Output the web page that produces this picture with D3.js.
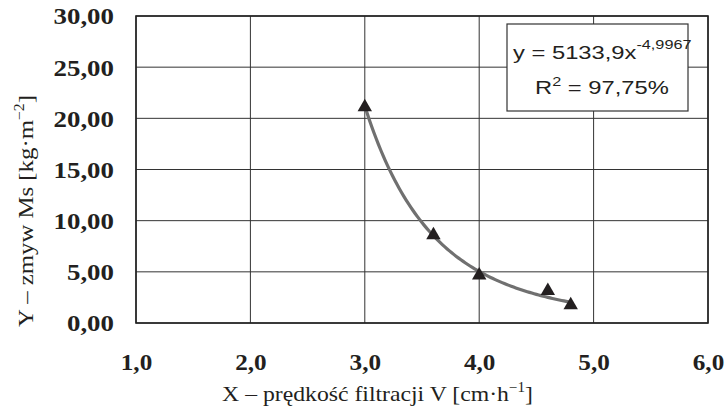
<!DOCTYPE html>
<html>
  <head>
    <meta charset="utf-8">
    <title>Zmyw Ms vs prędkość filtracji</title>
    <script src="https://d3js.org/d3.v7.min.js"></script>
    <style>
      body { margin: 0; background: #fff; }
      .grid line { stroke: #333; stroke-width: 1; }
    </style>
  </head>
  <body>
    <svg id="chart" width="726" height="410"></svg>
    <script>
      // measured points
      var xValues = [3.0, 3.6, 4.0, 4.6, 4.8];
      var yValues = [21.1, 8.6, 4.65, 3.15, 1.75];
      // fitted power trend y = a * x^b
      var fitA = 5133.9;
      var fitB = -4.9967;
      var xTicks = [1, 2, 3, 4, 5, 6];
      var yTicks = [0, 5, 10, 15, 20, 25, 30];

      var serif = "Liberation Serif";
      var sans = "Liberation Sans";
      var ink = "#231f20";

      var svg = d3.select("#chart");
      var margin = { left: 136, top: 16, right: 18, bottom: 87 };
      var width = 726 - margin.left - margin.right;
      var height = 410 - margin.top - margin.bottom;

      var x = d3.scaleLinear().domain([1, 6]).range([0, width]);
      var y = d3.scaleLinear().domain([0, 30]).range([height, 0]);
      var fmtX = function(d) { return d3.format(".1f")(d).replace(".", ","); };
      var fmtY = function(d) { return d3.format(".2f")(d).replace(".", ","); };

      var g = svg.append("g").attr("transform", "translate(" + margin.left + "," + margin.top + ")");

      // grid
      g.append("g").attr("class", "grid")
        .selectAll("line").data(yTicks).enter().append("line")
          .attr("x1", 0).attr("x2", width)
          .attr("y1", function(d) { return y(d); }).attr("y2", function(d) { return y(d); });
      g.append("g").attr("class", "grid")
        .selectAll("line").data(xTicks).enter().append("line")
          .attr("y1", 0).attr("y2", height)
          .attr("x1", function(d) { return x(d); }).attr("x2", function(d) { return x(d); });
      g.append("rect")
        .attr("width", width).attr("height", height)
        .attr("fill", "none").attr("stroke", "#222").attr("stroke-width", 1.6);

      // axes (labels only)
      var xAxis = g.append("g").attr("transform", "translate(0," + height + ")")
        .call(d3.axisBottom(x).tickValues(xTicks).tickFormat(fmtX).tickSize(0));
      var yAxis = g.append("g")
        .call(d3.axisLeft(y).tickValues(yTicks).tickFormat(fmtY).tickSize(0));
      svg.selectAll(".domain").remove();
      xAxis.attr("font-family", serif).attr("font-size", 24);
      yAxis.attr("font-family", serif).attr("font-size", 24);
      svg.selectAll(".tick text")
        .attr("font-family", serif).attr("font-weight", "bold").attr("font-size", 24).attr("fill", ink);
      xAxis.selectAll("text")
        .attr("y", 0).attr("dy", 0)
        .attr("transform", "translate(0," + (370 - margin.top - height) + ") scale(1.05,1)");
      yAxis.selectAll("text")
        .attr("x", 0).attr("dy", "0.33em")
        .attr("transform", "translate(-22,0) scale(1.12,1)");

      // trend line
      var curve = d3.range(xValues[0], d3.max(xValues) + 0.001, 0.02).map(function(v) { return [v, fitA * Math.pow(v, fitB)]; });
      g.append("path")
        .datum(curve)
        .attr("fill", "none")
        .attr("stroke", "#707070")
        .attr("stroke-width", 3.2)
        .attr("d", d3.line().x(function(d) { return x(d[0]); }).y(function(d) { return y(d[1]); }));

      // markers
      var tri = d3.symbol().type(d3.symbolTriangle).size(90);
      g.selectAll(".pt").data(xValues).enter().append("path")
        .attr("class", "pt")
        .attr("d", tri)
        .attr("fill", ink)
        .attr("transform", function(d, i) { return "translate(" + x(d) + "," + y(yValues[i]) + ")"; });

      // equation box
      svg.append("rect").attr("x", 507).attr("y", 24).attr("width", 181).attr("height", 87)
        .attr("fill", "#fff").attr("stroke", "#333").attr("stroke-width", 1.2);
      function stretched(px, by, sx, font, size, anchor) {
        return svg.append("text")
          .attr("transform", "translate(" + px + "," + by + ") scale(" + sx + ",1)")
          .attr("text-anchor", anchor || "middle")
          .attr("font-family", font).attr("font-size", size).attr("fill", ink);
      }
      var eq1 = stretched(513, 58.5, 1.25, sans, 19, "start");
      eq1.append("tspan").text("y = 5133,9x");
      eq1.append("tspan").attr("dy", -10).attr("font-size", 13).text("-4,9967");
      var eq2 = stretched(535, 93.5, 1.25, sans, 19, "start");
      eq2.append("tspan").text("R");
      eq2.append("tspan").attr("dy", -8).attr("font-size", 13).text("2");
      eq2.append("tspan").attr("dy", 8).text(" = 97,75%");

      // axis titles, fitted to the width they take in the original
      function fitTitle(t, target) {
        var w = t.node().getBBox().width;
        var tr = t.attr("transform");
        t.attr("transform", tr.replace(/scale\([^)]*\)/, "scale(" + (target / w) + ",1)"));
      }
      var xt = stretched(377.5, 401, 1, serif, 22);
      xt.append("tspan").text("X – prędkość filtracji V [cm·h");
      xt.append("tspan").attr("dy", -9).attr("font-size", 14).text("−1");
      xt.append("tspan").attr("dy", 9).text("]");
      fitTitle(xt, 311);
      var yt = svg.append("g").attr("transform", "translate(33,211) rotate(-90)");
      var ytText = yt.append("text").attr("transform", "scale(1,1)").attr("text-anchor", "middle")
        .attr("font-family", serif).attr("font-size", 22).attr("fill", ink);
      ytText.append("tspan").text("Y – zmyw Ms [kg·m");
      ytText.append("tspan").attr("dy", -9).attr("font-size", 14).text("−2");
      ytText.append("tspan").attr("dy", 9).text("]");
      fitTitle(ytText, 232);
    </script>
  </body>
</html>
